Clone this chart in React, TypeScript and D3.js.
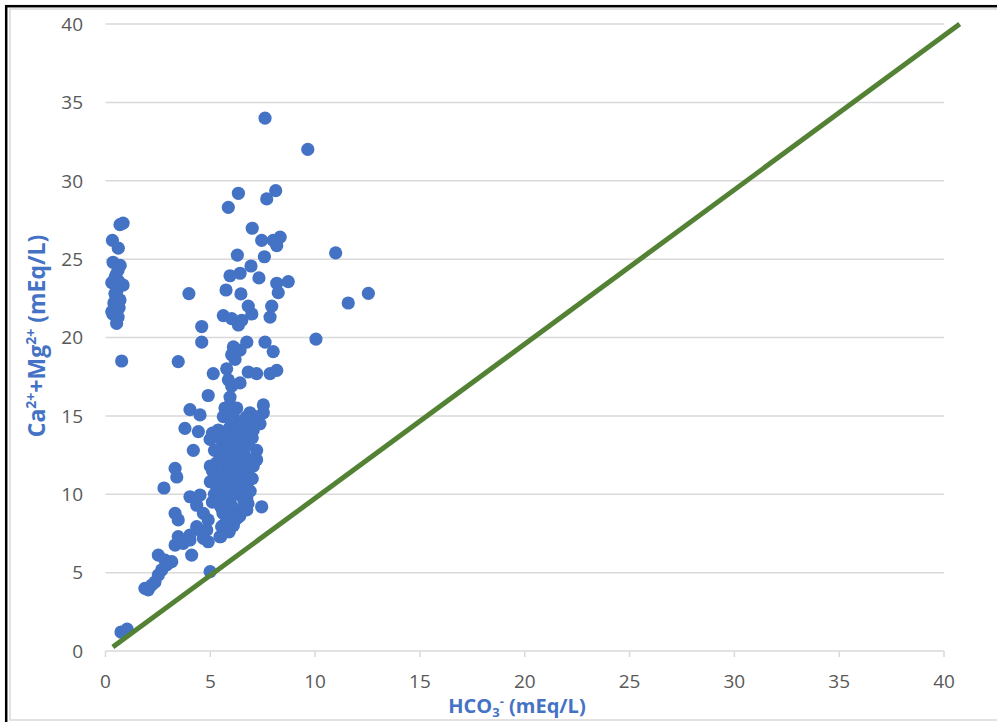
import React from 'react';
import * as d3 from 'd3';

// HCO3- (mEq/L) values, x
const hco3: number[] = [
  // column near zero
  0.69, 0.84, 0.33, 0.61, 0.36, 0.6, 0.5, 0.45, 0.7, 0.3, 0.84, 0.55, 0.45, 0.69, 0.4, 0.65, 0.3, 0.6, 0.53, 0.35, 0.77, 0.5, 0.62,
  0.74, 1.03,
  // upper scatter
  7.61, 9.65, 6.34, 8.12, 7.69, 5.86, 7.0, 7.45, 8.33, 8.17, 8.0, 10.98, 6.29, 7.58, 6.94, 5.94, 6.42, 7.32, 8.72, 8.17, 8.24, 3.98, 5.75, 6.46, 12.54, 11.58,
  // middle
  6.81, 6.98, 7.93, 7.85, 5.62, 6.02, 6.34, 6.5, 4.59, 4.59, 10.04, 6.1, 6.74, 6.42, 7.61, 8.0, 6.02, 6.18, 3.47, 5.14, 5.78, 5.86, 6.81, 7.21, 7.85, 8.17,
  6.02, 6.42, 4.9, 5.94, 5.94, 4.03, 4.51, 5.7, 6.26, 6.02, 5.62, 6.89, 7.53, 7.53, 7.13, 3.79, 4.43, 5.38, 6.57, 7.37, 7.05,
  // lower
  4.19, 4.99, 7.21, 7.21, 7.05, 6.74, 3.32, 3.4, 2.79, 4.03, 4.51, 4.35, 6.74, 7.45, 3.32, 3.47, 4.67, 4.9, 5.7, 6.18, 6.74, 6.26,
  4.35, 4.51, 4.03, 3.47, 3.32, 4.67, 4.9, 5.46, 5.54, 5.86, 3.71, 3.64, 4.03, 4.83, 2.52, 2.84, 3.16, 4.11,
  2.04, 1.88, 2.36, 2.52, 2.68, 2.92, 4.99, 2.2,
  // dense block
  5.1, 5.2, 5.3, 5.2, 5.4, 5.5, 5.6, 5.8, 6.0, 6.2, 6.4, 6.6, 6.8,
  5.3, 5.5, 5.6, 5.7, 5.8, 5.9, 6.0, 6.1,
  5.6, 5.8, 5.9, 6.0, 6.1, 6.2, 6.3, 6.5, 6.7,
  5.5, 5.7, 5.9, 6.1, 6.3, 6.5, 6.7, 6.9, 6.6, 6.4, 6.2, 6.0,
  5.7, 6.0, 6.3, 6.5, 6.8, 7.0, 6.9, 6.6,
  6.8, 7.0, 6.7, 6.5, 6.3, 6.9, 7.1,
  5.4, 5.2, 5.1, 5.0, 5.0, 5.1,
  5.6, 5.9, 5.5, 5.8, 6.1, 6.3,
];

// Ca2+ + Mg2+ (mEq/L) values, y
const caMg: number[] = [
  27.2, 27.3, 26.2, 25.7, 24.8, 24.3, 24.0, 23.8, 24.6, 23.5, 23.35, 23.0, 22.8, 22.4, 22.2, 21.9, 21.65, 21.3, 20.9, 21.5, 18.5, 22.6, 23.6,
  1.21, 1.4,
  34.0, 32.0, 29.2, 29.37, 28.84, 28.3, 26.97, 26.2, 26.4, 25.86, 26.2, 25.4, 25.26, 25.15, 24.56, 23.94, 24.1, 23.8, 23.56, 23.46, 22.86, 22.8, 23.03, 22.78, 22.82, 22.2,
  22.0, 21.5, 22.0, 21.3, 21.4, 21.2, 20.8, 21.1, 20.7, 19.7, 19.9, 19.4, 19.7, 19.2, 19.7, 19.1, 18.9, 18.6, 18.46, 17.7, 18.0, 17.3, 17.8, 17.7, 17.7, 17.9,
  16.9, 17.1, 16.3, 16.2, 15.7, 15.4, 15.06, 15.5, 15.5, 15.2, 14.95, 15.2, 15.7, 15.2, 14.95, 14.2, 14.0, 14.1, 14.3, 14.5, 14.1,
  12.8, 13.5, 12.8, 12.2, 11.8, 11.3, 11.65, 11.1, 10.4, 9.84, 9.95, 9.3, 9.74, 9.2, 8.78, 8.36, 8.78, 8.36, 8.68, 8.36, 9.0, 8.57,
  7.93, 7.72, 7.4, 7.3, 6.76, 7.19, 6.97, 7.29, 7.93, 8.57, 6.87, 7.0, 7.08, 7.72, 6.12, 5.8, 5.7, 6.12,
  3.9, 4.0, 4.4, 4.85, 5.17, 5.49, 5.06, 4.2,
  11.5, 11.0, 10.5, 10.0, 9.6, 9.2, 8.8, 9.0, 9.3, 9.0, 8.6, 9.0, 9.4,
  12.0, 12.5, 13.0, 13.4, 13.8, 14.2, 14.6, 15.0,
  11.3, 11.8, 12.3, 12.8, 13.3, 13.7, 14.1, 14.5, 14.9,
  10.4, 10.8, 10.2, 10.6, 11.0, 11.4, 11.8, 12.2, 12.6, 12.2, 11.8, 11.4,
  9.8, 9.9, 10.0, 10.4, 10.8, 11.0, 10.2, 9.6,
  13.2, 13.6, 13.8, 13.2, 12.6, 14.2, 14.4,
  13.6, 12.8, 13.9, 11.8, 10.8, 9.5,
  8.0, 7.6, 7.3, 8.3, 8.0, 8.5,
];

const xTicks: number[] = [0, 5, 10, 15, 20, 25, 30, 35, 40];
const yTicks: number[] = [0, 5, 10, 15, 20, 25, 30, 35, 40];

// 1:1 reference line end points
const refLineX: number[] = [0.35, 40.75];
const refLineY: number[] = [0.25, 40];

const BLUE = '#4472C4';
const GRID = '#D9D9D9';
const LABEL = '#595959';
const GREEN = '#548235';

export default function App() {
  const W = 997;
  const H = 722;
  const x = d3.scaleLinear().domain([0, 40]).range([105.5, 944]);
  const y = d3.scaleLinear().domain([0, 40]).range([651, 24]);
  const pts = hco3.map((v, i) => [v, caMg[i]] as [number, number]);
  const refPts = refLineX.map((v, i) => [v, refLineY[i]] as [number, number]);
  const line = d3
    .line<[number, number]>()
    .x((d) => x(d[0]))
    .y((d) => y(d[1]));
  const font = "'Open Sans', 'Liberation Sans', sans-serif";

  return (
    <>
      <style>{`body{margin:0;}`}</style>
      <svg width={W} height={H} style={{ display: 'block', background: '#fff' }}>
        <rect x={0} y={0} width={W} height={H} fill="#fff" />
        {/* chart area border */}
        <rect x={10} y={9} width={W + 10} height={711} fill="none" stroke={GRID} strokeWidth={1.5} />
        {/* outer black frame (top and left visible) */}
        <rect x={6.2} y={6.2} width={W + 20} height={H + 20} fill="none" stroke="#000" strokeWidth={2.5} />

        {/* gridlines */}
        {yTicks.filter((t) => t !== 0).map((t) => (
          <line key={'g' + t} x1={x(0)} x2={x(40)} y1={y(t)} y2={y(t)} stroke={GRID} strokeWidth={1.5} />
        ))}
        {/* x axis */}
        <line x1={x(0)} x2={x(40)} y1={y(0)} y2={y(0)} stroke={GRID} strokeWidth={1.5} />
        {xTicks.map((t) => (
          <line key={'xt' + t} x1={x(t)} x2={x(t)} y1={y(0)} y2={y(0) + 6} stroke={GRID} strokeWidth={1.5} />
        ))}

        {/* tick labels */}
        {yTicks.map((t) => (
          <text
            key={'yl' + t}
            x={83}
            y={y(t)}
            dy="0.36em"
            textAnchor="end"
            fontFamily={font}
            fontSize={19}
            fill={LABEL}
          >
            {t}
          </text>
        ))}
        {xTicks.map((t) => (
          <text
            key={'xl' + t}
            x={x(t)}
            y={688}
            textAnchor="middle"
            fontFamily={font}
            fontSize={19}
            fill={LABEL}
          >
            {t}
          </text>
        ))}

        {/* points */}
        {pts.map((d, i) => (
          <circle key={'p' + i} cx={x(d[0])} cy={y(d[1])} r={6.6} fill={BLUE} />
        ))}

        {/* reference line */}
        <path d={line(refPts) || ''} fill="none" stroke={GREEN} strokeWidth={5} />

        {/* axis titles */}
        <text
          x={517}
          y={713}
          textAnchor="middle"
          fontFamily={font}
          fontWeight="bold"
          fontSize={20}
          fill={BLUE}
        >
          HCO
          <tspan fontSize={13} dy={4}>3</tspan>
          <tspan fontSize={13} dy={-11}>-</tspan>
          <tspan dy={7}> (mEq/L)</tspan>
        </text>
        <text
          transform={`translate(45, 336) rotate(-90)`}
          textAnchor="middle"
          fontFamily={font}
          fontWeight="bold"
          fontSize={23}
          fill={BLUE}
        >
          Ca
          <tspan fontSize={14} dy={-9}>2+</tspan>
          <tspan dy={9}>+Mg</tspan>
          <tspan fontSize={14} dy={-9}>2+</tspan>
          <tspan dy={9}> (mEq/L)</tspan>
        </text>
      </svg>
    </>
  );
}
